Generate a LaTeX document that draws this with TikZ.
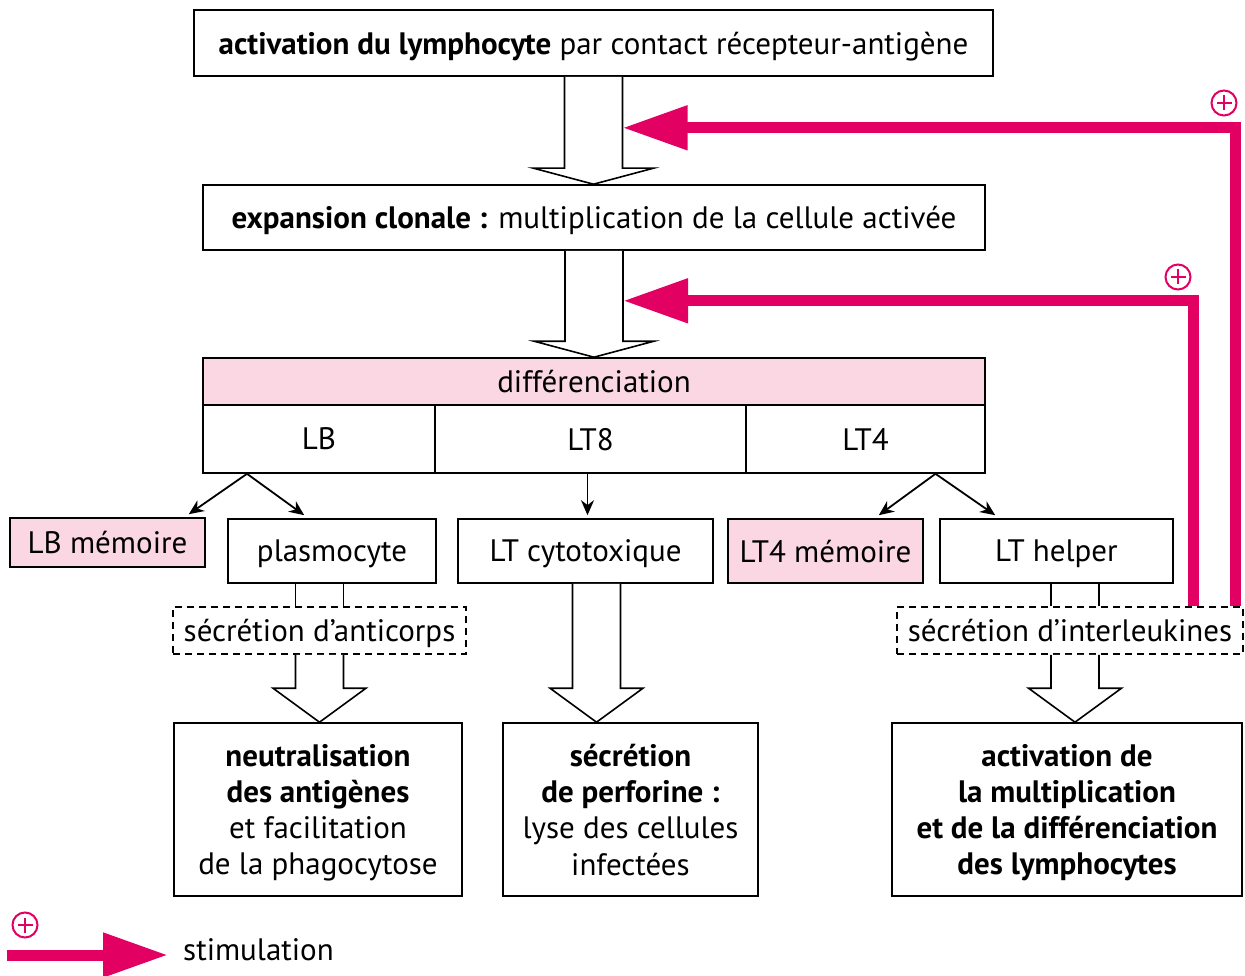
\documentclass[tikz,border=0pt]{standalone}
\usepackage{fontspec}
\setmainfont{PT Sans}
\usetikzlibrary{arrows.meta,calc}
\definecolor{stim}{RGB}{226,0,98}
\definecolor{rosefill}{RGB}{250,215,227}
\tikzset{
  box/.style={draw, line width=1.6pt, inner sep=0pt, align=center, text depth=0pt, font=\fontsize{31}{36.3}\selectfont},
  dashbox/.style={box, dash pattern=on 7pt off 5pt},
  rose/.style={fill=rosefill},
  thinarrow/.style={line width=1.8pt, -{Stealth[length=15pt,width=13pt]}},
  stimline/.style={draw=stim, line width=11pt, -{Triangle[length=65pt,width=42pt]}},
  plussign/.style={circle, draw=stim, line width=2pt, minimum size=25pt, inner sep=0pt,
    path picture={\draw[stim, line width=2.4pt] (path picture bounding box.center) +(-7.5,0) -- +(7.5,0)
      (path picture bounding box.center) +(0,-7.5) -- +(0,7.5);}}
}
% hollow arrow: #1 start, #2 tip, #3 half shaft, #4 half head, #5 head length
\newcommand{\hollowarrow}[5]{%
  \draw[line width=1.6pt, fill=white] let \p1=(#1), \p2=(#2) in
    (\x1-#3pt,\y1) -- (\x1-#3pt,\y2+#5pt) -- (\x1-#4pt,\y2+#5pt) -- (\x1,\y2)
    -- (\x1+#4pt,\y2+#5pt) -- (\x1+#3pt,\y2+#5pt) -- (\x1+#3pt,\y1);}
\begin{document}
\begin{tikzpicture}[x=1pt,y=-1pt]
\useasboundingbox (0,0) rectangle (1245,976);

% Top boxes
\node[box, minimum width=799pt, minimum height=66pt] (act) at (593.5,43) {\textbf{activation du lymphocyte} par contact récepteur-antigène};
\node[box, minimum width=782pt, minimum height=65pt] (clon) at (594,217.5) {\textbf{expansion clonale :} multiplication de la cellule activée};

% Differenciation table
\node[box, rose, minimum width=782pt, minimum height=47pt] (diff) at (594,381.5) {différenciation};
\node[box, minimum width=232pt, minimum height=68pt] (lb) at (319,439) {LB};
\node[box, minimum width=311pt, minimum height=68pt] (lt8) at (590.5,439) {LT8};
\node[box, minimum width=239pt, minimum height=68pt] (lt4) at (865.5,439) {LT4};

% Cells
\node[box, rose, minimum width=195pt, minimum height=49pt] (lbm) at (107.5,542.5) {LB mémoire};
\node[box, minimum width=208pt, minimum height=64pt] (plasmo) at (332,551) {plasmocyte};
\node[box, minimum width=255pt, minimum height=64pt] (cyto) at (585.5,551) {LT cytotoxique};
\node[box, rose, minimum width=195pt, minimum height=64pt] (lt4m) at (825.5,551) {LT4 mémoire};
\node[box, minimum width=233pt, minimum height=64pt] (helper) at (1056.5,551) {LT helper};

% Secretions
\node[dashbox, minimum width=293pt, minimum height=47pt] (anti) at (319.5,630.5) {sécrétion d’anticorps};
\node[dashbox, minimum width=346pt, minimum height=47pt] (inter) at (1070,630.5) {sécrétion d’interleukines};

% Effects
\node[box, minimum width=288pt, minimum height=173pt] (neutral) at (318,809.5) {\textbf{neutralisation}\\\textbf{des antigènes}\\et facilitation\\de la phagocytose};
\node[box, minimum width=255pt, minimum height=173pt] (perf) at (630.5,809.5) {\textbf{sécrétion}\\\textbf{de perforine :}\\lyse des cellules\\infectées};
\node[box, minimum width=350pt, minimum height=173pt] (multi) at (1067,809.5) {\textbf{activation de}\\\textbf{la multiplication}\\\textbf{et de la différenciation}\\\textbf{des lymphocytes}};

% Hollow arrows
\hollowarrow{act.south}{clon.north}{29}{60}{16}
\hollowarrow{clon.south}{diff.north}{29}{60}{16}
\hollowarrow{anti.south}{neutral.north}{24}{46.5}{34}
\hollowarrow{$(cyto.south)+(11,0)$}{perf.north}{24}{46.5}{34}
\hollowarrow{$(inter.south)+(5,0)$}{multi.north}{24}{46.5}{34}

% Links to secretions
\coordinate (a1) at ($(anti.north)+(-24,0)$);
\coordinate (a2) at ($(anti.north)+(24,0)$);
\coordinate (h1) at ($(inter.north)+(-19,0)$);
\coordinate (h2) at ($(inter.north)+(29,0)$);
\draw[line width=1.6pt] (a1) -- (a1 |- plasmo.south) (a2) -- (a2 |- plasmo.south);
\draw[line width=1.6pt] (h1) -- (h1 |- helper.south) (h2) -- (h2 |- helper.south);

% Thin arrows
\coordinate (lbo) at ($(lb.south)+(-72,0)$);
\coordinate (lt4o) at ($(lt4.south)+(70,0)$);
\draw[thinarrow] (lbo) -- ($(lbm.north east)+(-17,-3)$);
\draw[thinarrow] (lbo) -- ($(plasmo.north west)+(77,-3)$);
\draw[thinarrow] ($(lt8.south)+(-3,0)$) -- ($(lt8.south |- cyto.north)+(-3,-3)$);
\draw[thinarrow] (lt4o) -- ($(lt4m.north east)+(-45,-3)$);
\draw[thinarrow] (lt4o) -- ($(helper.north west)+(56,-3)$);

% Stimulation arrows
\coordinate (o1) at ($(inter.north east)+(-8,0)$);
\coordinate (o2) at ($(inter.north east)+(-50,0)$);
\coordinate (s1) at ($(act.south)+(29,51)$);
\coordinate (s2) at ($(clon.south)+(29,50)$);
\draw[stimline] (o1) |- (s1);
\draw[stimline] (o2) |- (s2);
\node[plussign] (p1) at (1224,103) {};
\node[plussign] (p2) at (1178,277) {};

% Legend
\node[plussign] (p3) at (25,925) {};
\coordinate (lgs) at (7,955);
\node[anchor=west, inner sep=0pt, font=\fontsize{31}{36.3}\selectfont] (lgt) at (183,950) {stimulation};
\draw[stimline] (lgs) -- ($(lgt.west |- lgs)+(-15,0)$);
\end{tikzpicture}
\end{document}
